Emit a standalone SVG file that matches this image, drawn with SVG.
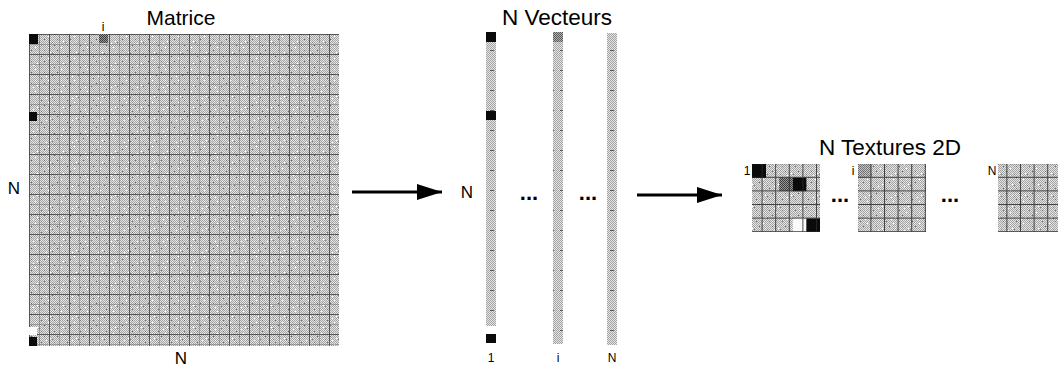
<svg xmlns="http://www.w3.org/2000/svg" width="1058" height="368" viewBox="0 0 1058 368">
  <defs>
    <style>
      .title { font-family: "Liberation Sans", Arial, sans-serif; font-size: 21px; fill: #000; }
      .title2 { font-family: "Liberation Sans", Arial, sans-serif; font-size: 22.5px; fill: #000; }
      .big { font-family: "Liberation Sans", Arial, sans-serif; font-size: 17px; fill: #000; }
      .small { font-family: "Liberation Sans", Arial, sans-serif; font-size: 12px; fill: #000; }
      .dots { font-family: "Liberation Sans", Arial, sans-serif; font-size: 22px; font-weight: bold; fill: #000; }
      .arrow { stroke: #000; stroke-width: 3; fill: none; marker-end: url(#head); }
      .cellBlack { fill: #0a0a0a; }
      .cellDark { fill: url(#ditherDark); }
      .cellWhite { fill: #fafafa; }
    </style>
    <!-- halftone grey used for matrix, vectors and textures -->
    <pattern id="dither" patternUnits="userSpaceOnUse" width="4" height="4">
      <rect width="4" height="4" fill="#e4e4e4"/>
      <rect x="0" y="0" width="1" height="1" fill="#a4a4a4"/>
      <rect x="2" y="0" width="1" height="1" fill="#a4a4a4"/>
      <rect x="1" y="1" width="1" height="1" fill="#a4a4a4"/>
      <rect x="3" y="1" width="1" height="1" fill="#a4a4a4"/>
      <rect x="0" y="2" width="1" height="1" fill="#a4a4a4"/>
      <rect x="2" y="2" width="1" height="1" fill="#a4a4a4"/>
      <rect x="1" y="3" width="1" height="1" fill="#a4a4a4"/>
      <rect x="3" y="3" width="1" height="1" fill="#a4a4a4"/>
    </pattern>
    <pattern id="specks" patternUnits="userSpaceOnUse" width="13" height="11">
      <rect x="2" y="1" width="1" height="1" fill="#707070"/>
      <rect x="9" y="3" width="1" height="1" fill="#ffffff"/>
      <rect x="5" y="6" width="1" height="1" fill="#6a6a6a"/>
      <rect x="11" y="8" width="1" height="1" fill="#ffffff"/>
      <rect x="0" y="9" width="1" height="1" fill="#808080"/>
      <rect x="7" y="10" width="1" height="1" fill="#f4f4f4"/>
    </pattern>
    <pattern id="ditherDark" patternUnits="userSpaceOnUse" width="2" height="2">
      <rect width="2" height="2" fill="#9a9a9a"/>
      <rect x="0" y="0" width="1" height="1" fill="#3a3a3a"/>
      <rect x="1" y="1" width="1" height="1" fill="#3a3a3a"/>
    </pattern>
    <!-- matrix grid: fine lines every 10 px, heavier every 20 px -->
    <pattern id="grid" patternUnits="userSpaceOnUse" x="29" y="34" width="20" height="20">
      <path d="M0.5 0 V20 M0 0.5 H20" stroke="#3c3c3c" stroke-width="1" fill="none" opacity="0.8"/>
      <path d="M10.5 0 V20 M0 10.5 H20" stroke="#6c6c6c" stroke-width="1" fill="none" opacity="0.5"/>
    </pattern>
    <!-- texture grid: cells of 13.6 px -->
    <pattern id="tgrid" patternUnits="userSpaceOnUse" width="13.6" height="13.6">
      <path d="M0.5 0 V13.6 M0 0.5 H13.6" stroke="#2a2a2a" stroke-width="1" fill="none" opacity="0.85"/>
    </pattern>
    <!-- short ticks along the vectors -->
    <pattern id="vticks" patternUnits="userSpaceOnUse" width="10" height="20">
      <path d="M0 10.5 H4" stroke="#333" stroke-width="1" opacity="0.7"/>
    </pattern>
    <marker id="head" markerUnits="userSpaceOnUse" markerWidth="26" markerHeight="16" refX="25" refY="8" orient="auto">
      <path d="M0 0 L25 8 L0 16 Z" fill="#000"/>
    </marker>
  </defs>

  <rect width="1058" height="368" fill="#fff"/>

  <!-- N x N matrix -->
  <g id="matrix">
    <text class="title" x="181" y="25" text-anchor="middle">Matrice</text>
    <text class="small" x="103" y="31" text-anchor="middle">i</text>
    <text class="big" x="14" y="194" text-anchor="middle">N</text>
    <text class="big" x="181" y="364" text-anchor="middle">N</text>
    <rect x="29" y="34" width="310" height="312" fill="url(#dither)"/>
    <rect x="29" y="34" width="310" height="312" fill="url(#specks)"/>
    <rect x="29" y="34" width="310" height="312" fill="url(#grid)"/>
    <rect class="cellBlack" x="29" y="34" width="9" height="10"/>
    <rect class="cellDark" x="99" y="34" width="9" height="9"/>
    <rect class="cellBlack" x="29" y="112" width="8" height="9"/>
    <rect class="cellWhite" x="29" y="327" width="8" height="8"/>
    <rect class="cellBlack" x="29" y="337" width="8" height="9"/>
  </g>

  <!-- the N column vectors -->
  <g id="vectors">
    <text class="title2" x="557" y="25" text-anchor="middle">N Vecteurs</text>
    <text class="big" x="467" y="198" text-anchor="middle">N</text>
    <g id="vector-1">
      <rect x="486" y="32" width="10" height="294" fill="url(#dither)"/>
      <rect x="486" y="32" width="10" height="294" fill="url(#vticks)"/>
      <rect class="cellBlack" x="486" y="32" width="10" height="10"/>
      <rect class="cellBlack" x="486" y="111" width="10" height="9"/>
      <rect class="cellBlack" x="486" y="334" width="10" height="9"/>
      <text class="small" x="491" y="362" text-anchor="middle">1</text>
    </g>
    <text class="dots" x="529" y="200" text-anchor="middle">...</text>
    <g id="vector-i">
      <rect x="553" y="32" width="10" height="312" fill="url(#dither)"/>
      <rect x="553" y="32" width="10" height="312" fill="url(#vticks)"/>
      <rect class="cellDark" x="553" y="32" width="10" height="10" opacity="0.7"/>
      <text class="small" x="558" y="362" text-anchor="middle">i</text>
    </g>
    <text class="dots" x="588" y="200" text-anchor="middle">...</text>
    <g id="vector-N">
      <rect x="607" y="33" width="10" height="312" fill="url(#dither)"/>
      <rect x="607" y="33" width="10" height="312" fill="url(#vticks)"/>
      <text class="small" x="612" y="362" text-anchor="middle">N</text>
    </g>
  </g>

  <!-- the N 2D textures -->
  <g id="textures">
    <text class="title2" x="890" y="155" text-anchor="middle">N Textures 2D</text>
    <g id="texture-1">
      <text class="small" x="747" y="175" text-anchor="middle">1</text>
      <rect x="752" y="164" width="68" height="68" fill="url(#dither)"/>
      <rect x="752" y="164" width="68" height="68" fill="url(#specks)"/>
      <rect class="cellBlack" x="752" y="164" width="14" height="14"/>
      <rect class="cellDark" x="779.2" y="177.6" width="13.6" height="13.6"/>
      <rect class="cellBlack" x="792.8" y="177.6" width="13.6" height="13.6"/>
      <rect class="cellWhite" x="792.8" y="218.4" width="13.6" height="13.6"/>
      <rect class="cellBlack" x="806.4" y="218.4" width="13.6" height="13.6"/>
      <rect x="752" y="164" width="68" height="68" fill="url(#tgrid)"/>
    </g>
    <text class="dots" x="840" y="202" text-anchor="middle">...</text>
    <g id="texture-i">
      <text class="small" x="853" y="175" text-anchor="middle">i</text>
      <rect x="858" y="164" width="68" height="68" fill="url(#dither)"/>
      <rect x="858" y="164" width="68" height="68" fill="url(#specks)"/>
      <rect class="cellDark" x="858" y="164" width="13.6" height="13.6" opacity="0.45"/>
      <rect x="858" y="164" width="68" height="68" fill="url(#tgrid)"/>
    </g>
    <text class="dots" x="950" y="202" text-anchor="middle">...</text>
    <g id="texture-N">
      <text class="small" x="992" y="175" text-anchor="middle">N</text>
      <rect x="998" y="164" width="68" height="68" fill="url(#dither)"/>
      <rect x="998" y="164" width="68" height="68" fill="url(#specks)"/>
      <rect x="998" y="164" width="68" height="68" fill="url(#tgrid)"/>
    </g>
  </g>

  <!-- transformation arrows -->
  <g id="connectors">
    <line class="arrow" x1="352" y1="192" x2="442" y2="192"/>
    <line class="arrow" x1="637" y1="195" x2="722" y2="195"/>
  </g>
</svg>
